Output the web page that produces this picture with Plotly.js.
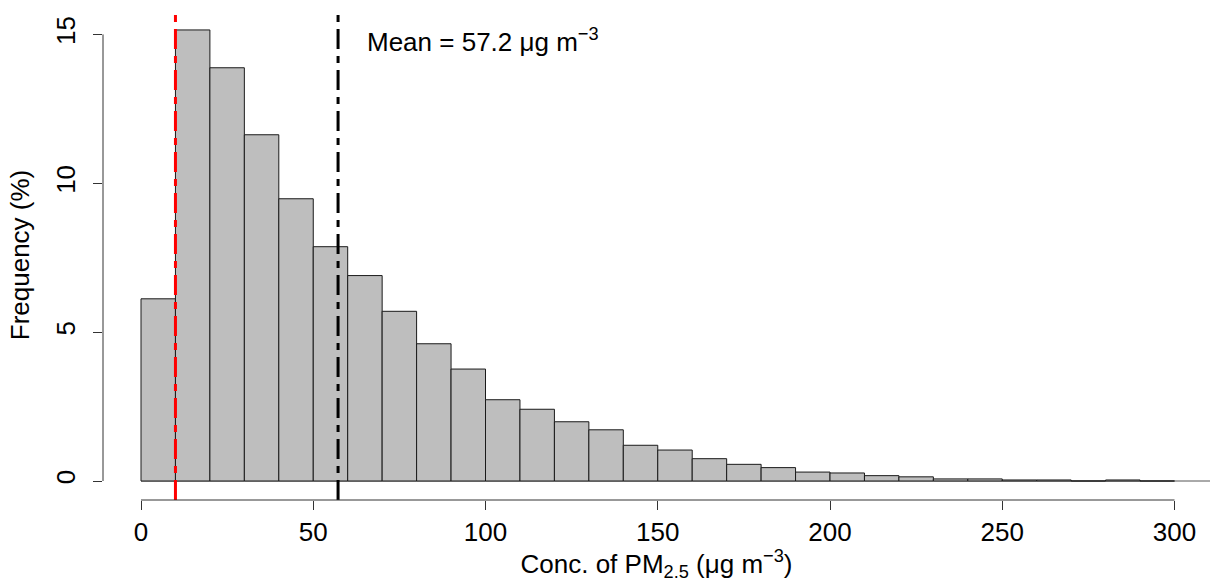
<!DOCTYPE html>
<html>
<head>
<meta charset="utf-8">
<script src="https://cdn.plot.ly/plotly-3.0.1.min.js"></script>
<style>
  html, body { margin: 0; padding: 0; background: #ffffff; }
  #chart { width: 1210px; height: 582px; }
</style>
</head>
<body>
<div id="chart"></div>
<script>
// Histogram of PM2.5 concentrations, 10 µg/m³ bins
const binLower = [0, 10, 20, 30, 40, 50, 60, 70, 80, 90,
                  100, 110, 120, 130, 140, 150, 160, 170, 180, 190,
                  200, 210, 220, 230, 240, 250, 260, 270, 280, 290];
const binWidth = 10;
const frequency = [6.12, 15.15, 13.88, 11.63, 9.48, 7.87, 6.90, 5.70, 4.61, 3.76,
                   2.73, 2.41, 1.99, 1.72, 1.20, 1.04, 0.75, 0.56, 0.45, 0.30,
                   0.27, 0.18, 0.14, 0.07, 0.07, 0.035, 0.035, 0, 0.035, 0];

// Reference values marked on the chart
const guidelineValue = 10;
const meanValue = 57.2;

const xTicks = [0, 50, 100, 150, 200, 250, 300];
const yTicks = [0, 5, 10, 15];

const FONT = 'Liberation Sans, Arial, Helvetica, sans-serif';
const FS = 26;
const Y_RANGE = [-0.638, 15.82];
const MARKER_DASH = '20px,7px,7px,7px';

const bars = {
  type: 'bar',
  x: binLower,
  y: frequency,
  width: binLower.map(() => binWidth),
  offset: 0,
  marker: { color: '#bebebe', line: { color: '#1a1a1a', width: 1 } },
  hoverinfo: 'x+y',
  showlegend: false
};

// full-height vertical marker line at a given x value
function vline(xv, color) {
  return {
    type: 'scatter',
    mode: 'lines',
    x: [xv, xv],
    y: [Y_RANGE[0], Y_RANGE[1]],
    line: { color: color, width: 3, dash: MARKER_DASH },
    hoverinfo: 'x',
    showlegend: false
  };
}

const layout = {
  width: 1210,
  height: 582,
  margin: { l: 103, r: 0, t: 10, b: 82 },
  paper_bgcolor: '#ffffff',
  plot_bgcolor: '#ffffff',
  font: { family: FONT, size: FS, color: '#000000' },
  bargap: 0,
  showlegend: false,
  xaxis: {
    range: [-11.03, 310.3],
    tickvals: xTicks,
    ticktext: xTicks.map(String),
    ticks: 'outside',
    ticklen: 9,
    tickwidth: 1,
    tickcolor: '#333333',
    showline: false,
    showgrid: false,
    zeroline: false,
    tickfont: { family: FONT, size: FS, color: '#000000' },
    title: {
      text: 'Conc. of PM<sub>2.5</sub> (μg m<sup>−3</sup>)',
      font: { family: FONT, size: FS, color: '#000000' },
      standoff: 11
    },
    automargin: false
  },
  yaxis: {
    range: Y_RANGE,
    tickvals: yTicks,
    ticktext: yTicks.map(String),
    tickangle: -90,
    ticks: 'outside',
    ticklen: 9,
    tickwidth: 1,
    tickcolor: '#333333',
    showline: false,
    showgrid: false,
    zeroline: false,
    ticklabelstandoff: 8,
    tickfont: { family: FONT, size: FS, color: '#000000' },
    title: {
      text: 'Frequency (%)',
      font: { family: FONT, size: FS, color: '#000000' },
      standoff: 13
    },
    automargin: false
  },
  shapes: [
    // left axis, spanning the tick range only
    { type: 'line', xref: 'paper', yref: 'y', x0: 0, x1: 0, y0: yTicks[0], y1: yTicks[yTicks.length - 1],
      line: { color: '#333333', width: 1 } },
    // bottom axis, spanning the tick range only
    { type: 'line', xref: 'x', yref: 'paper', x0: xTicks[0], x1: xTicks[xTicks.length - 1], y0: 0, y1: 0,
      line: { color: '#333333', width: 1 } },
    // baseline under the bars
    { type: 'line', xref: 'x', yref: 'y', x0: binLower[0], x1: 320, y0: 0, y1: 0,
      line: { color: '#555555', width: 1 }, layer: 'below' }
  ],
  annotations: [
    { xref: 'x', yref: 'y', x: 65, y: 14.8, xanchor: 'left', yanchor: 'middle',
      text: 'Mean = ' + meanValue.toFixed(1) + ' μg m<sup>−3</sup>',
      showarrow: false, font: { family: FONT, size: FS, color: '#000000' } }
  ]
};

Plotly.newPlot('chart',
  [bars, vline(guidelineValue, '#ff0000'), vline(meanValue, '#000000')],
  layout,
  { displayModeBar: false, responsive: false, staticPlot: true });
</script>
</body>
</html>
